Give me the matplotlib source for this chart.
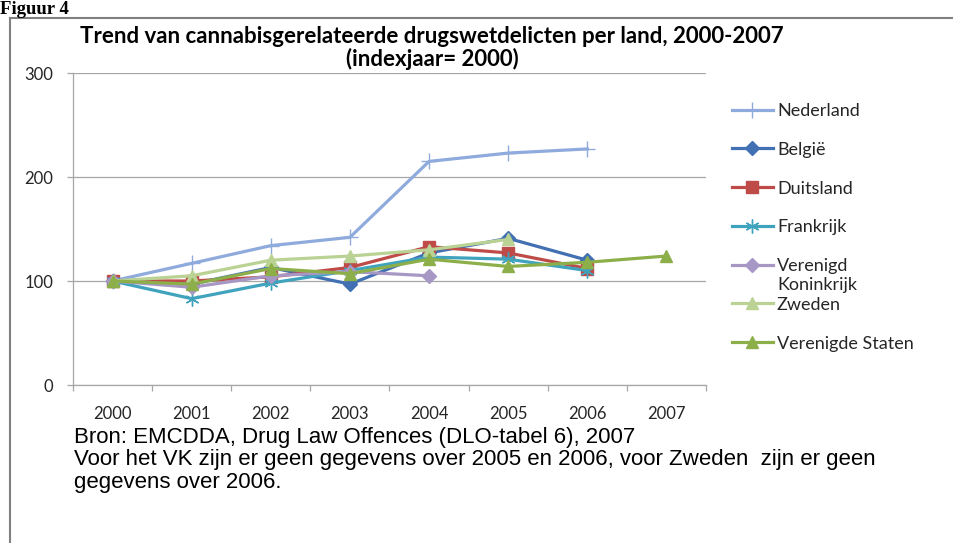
import numpy as np
import matplotlib
matplotlib.use('Agg')
import matplotlib.pyplot as plt
from matplotlib.lines import Line2D

years = ['2000', '2001', '2002', '2003', '2004', '2005', '2006', '2007']
nan = np.nan

# index values (2000 = 100)
nederland = [100, 117, 134, 142, 215, 223, 227, nan]
belgie = [100, 97, 113, 97, 127, 141, 120, nan]
duitsland = [100, 100, 104, 113, 133, 127, 112, nan]
frankrijk = [100, 83, 98, 110, 123, 121, 110, nan]
vk = [100, 94, 105, 109, 105, nan, nan, nan]
zweden = [100, 105, 120, 124, 130, 140, nan, nan]
vs = [100, 97, 112, 107, 121, 114, 118, 124]

series = [
    ('Nederland', nederland, '#8FAADC', '+', 11, 1.0),
    ('België', belgie, '#4170B3', 'D', 7, 1.0),
    ('Duitsland', duitsland, '#BE4B48', 's', 8, 1.0),
    ('Frankrijk', frankrijk, '#3FA3BE', (6, 2, 0), 10, 1.0),
    ('Verenigd', vk, '#A797C5', 'D', 7, 1.0),
    ('Zweden', zweden, '#BAD293', '^', 9, 1.0),
    ('Verenigde Staten', vs, '#8DAF4A', '^', 9, 1.0),
]

W, H = 954, 543
fig = plt.figure(figsize=(W / 100, H / 100), dpi=100)

# frame around the figure area
fig.add_artist(Line2D([10 / W, 10 / W], [0, 1 - 18 / H], color='#808080', lw=1.5))
fig.add_artist(Line2D([10 / W, 1], [1 - 18 / H, 1 - 18 / H], color='#808080', lw=1.5))

fig.text(0.0, 1 - 14 / H, 'Figuur 4', family='Liberation Serif', weight='bold',
         fontsize=13.5, va='baseline', ha='left')

ax = fig.add_axes([73 / W, 1 - 385 / H, (706 - 73) / W, (385 - 73) / H])

x = np.arange(len(years))
for name, vals, col, mk, ms, mew in series:
    ax.plot(x, vals, color=col, lw=2.3, marker=mk, markersize=ms,
            markeredgewidth=mew, markeredgecolor=col, label=name)

ax.set_xlim(-0.5, len(years) - 0.5)
ax.set_ylim(0, 300)
ax.set_yticks([0, 100, 200, 300])
ax.set_xticks(x)
ax.set_xticklabels(years)
ax.set_xticks(np.arange(-0.5, len(years)), minor=True)
ax.grid(axis='y', color='#A6A6A6', lw=0.9)
ax.set_axisbelow(True)

for s in ['top', 'right']:
    ax.spines[s].set_visible(False)
for s in ['left', 'bottom']:
    ax.spines[s].set_color('#A6A6A6')
    ax.spines[s].set_linewidth(0.9)

ax.tick_params(axis='x', which='major', length=0, pad=15, labelsize=12)
ax.tick_params(axis='x', which='minor', length=4, color='#A6A6A6', width=0.9)
ax.tick_params(axis='y', length=4, color='#A6A6A6', width=0.9, pad=10, labelsize=12)
for lab in ax.get_xticklabels() + ax.get_yticklabels():
    lab.set_family('Lato')
    lab.set_color('#262626')

fig.text(432 / W, 1 - 36 / H, 'Trend van cannabisgerelateerde drugswetdelicten per land, 2000-2007',
         family='Lato', weight='bold', fontsize=16, ha='center', va='center')
fig.text(432 / W, 1 - 59 / H, '(indexjaar= 2000)',
         family='Lato', weight='bold', fontsize=16, ha='center', va='center')

leg = ax.legend(loc='upper left', bbox_to_anchor=(732 / W, 1 - 103 / H),
                bbox_transform=fig.transFigure, frameon=False,
                prop={'family': 'Lato', 'size': 13}, handlelength=2.27,
                handletextpad=0.22, labelspacing=1.26, borderpad=0, borderaxespad=0)
for t in leg.get_texts():
    t.set_color('#262626')

fig.canvas.draw()
vk_text = leg.get_texts()[4]
bb = vk_text.get_window_extent()
fig.text(bb.x0 / W, (bb.y0 - 3) / H, 'Koninkrijk', family='Lato', fontsize=13,
         color='#262626', ha='left', va='top')

notes = ['Bron: EMCDDA, Drug Law Offences (DLO-tabel 6), 2007',
         'Voor het VK zijn er geen gegevens over 2005 en 2006, voor Zweden  zijn er geen',
         'gegevens over 2006.']
for i, line in enumerate(notes):
    fig.text(74 / W, 1 - (443 + 22.5 * i) / H, line, family='Liberation Sans',
             fontsize=16, ha='left', va='baseline')

fig.savefig('out.png', dpi=100)
